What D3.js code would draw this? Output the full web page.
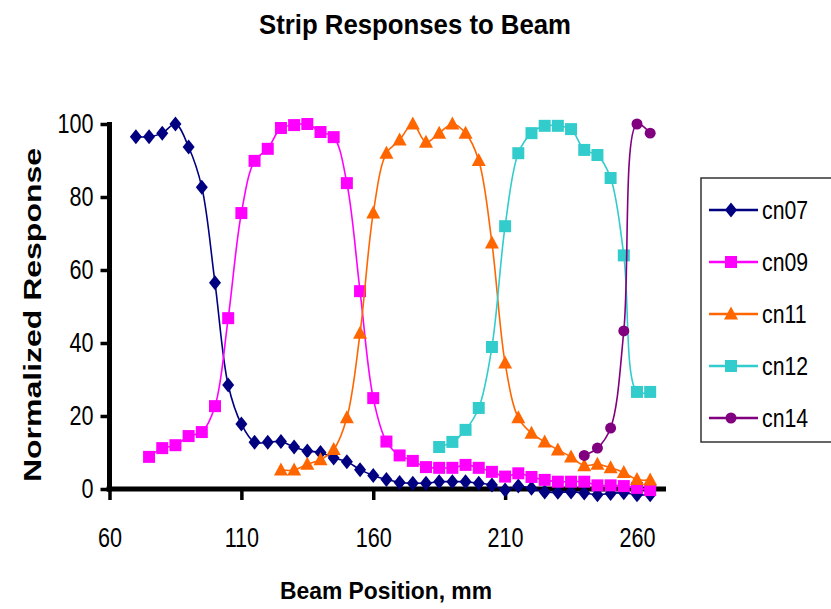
<!DOCTYPE html>
<html>
<head>
<meta charset="utf-8">
<script src="https://cdn.jsdelivr.net/npm/d3@7"></script>
<style>
  html, body { margin: 0; padding: 0; background: #fff; }
  svg { display: block; }
  text { font-family: "Liberation Sans", Arial, sans-serif; fill: #000; }
</style>
</head>
<body>
<svg id="chart" width="831" height="609"></svg>
<script>
// ---- data ----
const seriesNames = ["cn07", "cn09", "cn11", "cn12", "cn14"];
const seriesColors = ["#000080", "#FF00FF", "#FF6600", "#33CCCC", "#800080"];
const seriesSymbols = ["diamond", "square", "triangle", "square", "circle"];

const cn07X = [70,75,80,85,90,95,100,105,110,115,120,125,130,135,140,145,150,155,160,165,170,175,180,185,190,195,200,205,210,215,220,225,230,235,240,245,250,255,260,265];
const cn07Y = [96.5,96.5,97.5,100,93.7,82.7,56.5,28.5,17.8,12.8,12.8,13,11.5,10.4,10,8.5,7.5,5.3,3.7,2.6,1.8,1.6,1.6,2,2,2,1.6,1.1,-0.3,0.8,0.2,-0.8,-0.9,-0.8,-1.1,-1.6,-1.2,-1,-1.6,-1.6];

const cn09X = [75,80,85,90,95,100,105,110,115,120,125,130,135,140,145,150,155,160,165,170,175,180,185,190,195,200,205,210,215,220,225,230,235,240,245,250,255,260,265];
const cn09Y = [8.8,11.2,12,14.5,15.6,22.7,46.8,75.6,89.9,93.2,98.9,99.7,100,97.8,96.4,83.8,54.2,24.9,13,9.2,7.7,6,5.8,5.8,6.6,5.8,4.7,3.4,4.3,3.3,2.5,2,2,2,1,1,0.8,0.3,-0.3];

const cn11X = [125,130,135,140,145,150,155,160,165,170,175,180,185,190,195,200,205,210,215,220,225,230,235,240,245,250,255,260,265];
const cn11Y = [5.2,5.2,6.8,8,10.8,19.5,42.7,75.6,92,95.6,100,95,97.5,100,97.5,90,67.4,34.5,19.5,15.3,12.9,10.7,8.8,6.4,6.8,5.8,4.5,2.6,2.5];

const cn12X = [185,190,195,200,205,210,215,220,225,230,235,240,245,250,255,260,265];
const cn12Y = [11.5,12.9,16.2,22.2,38.9,72,92,97.5,99.5,99.5,98.6,92.9,91.5,85.2,64,26.6,26.6];

const cn14X = [240,245,250,255,260,265];
const cn14Y = [9.2,11.2,16.7,43.3,100,97.5];

const xTicks = [60, 110, 160, 210, 260];
const yTicks = [0, 20, 40, 60, 80, 100];

const titleText = "Strip Responses to Beam";
const xTitle = "Beam Position, mm";
const yTitle = "Normalized Response";

// ---- build ----
const xs = [cn07X, cn09X, cn11X, cn12X, cn14X];
const ys = [cn07Y, cn09Y, cn11Y, cn12Y, cn14Y];
const series = seriesNames.map((name, i) => ({
  name, color: seriesColors[i], symbol: seriesSymbols[i],
  points: xs[i].map((xv, j) => ({ x: xv, y: ys[i][j] }))
}));

function squeeze(sel, factor) {
  sel.each(function () {
    const w = this.getComputedTextLength();
    d3.select(this).attr("textLength", w * factor).attr("lengthAdjust", "spacingAndGlyphs");
  });
}

const svg = d3.select("#chart");
const x = d3.scaleLinear().domain([60, 271]).range([109.5, 666]);
const y = d3.scaleLinear().domain([0, 100]).range([489, 124]);

// title
svg.append("text")
  .attr("x", 415).attr("y", 34)
  .attr("text-anchor", "middle")
  .attr("font-size", 28).attr("font-weight", "bold")
  .attr("textLength", 312).attr("lengthAdjust", "spacingAndGlyphs")
  .text(titleText);

// axes
const yAxis = svg.append("g").attr("transform", `translate(${x(60)},0)`)
  .call(d3.axisLeft(y).tickValues(yTicks).tickSize(9).tickSizeOuter(0).tickPadding(7));
const xAxis = svg.append("g").attr("transform", `translate(0,${y(0)})`)
  .call(d3.axisBottom(x).tickValues(xTicks).tickSize(11).tickSizeOuter(0).tickPadding(28));

[yAxis, xAxis].forEach(g => {
  g.select(".domain").attr("stroke", "#000").attr("stroke-width", 5);
  g.selectAll(".tick line").attr("stroke", "#000").attr("stroke-width", 3.5);
  g.selectAll(".tick text").attr("font-size", 27)
    .attr("font-family", "'Liberation Sans',Arial,sans-serif")
    .attr("fill", "#000");
  squeeze(g.selectAll(".tick text"), 0.8);
});
yAxis.select(".domain").attr("d", `M0,${y(100) - 2}V${y(0) + 2.5}`);
xAxis.select(".domain").attr("d", `M${x(60) - 3},0H${x(271)}`);

// axis titles
svg.append("text")
  .attr("x", 386).attr("y", 599)
  .attr("text-anchor", "middle")
  .attr("font-size", 24).attr("font-weight", "bold")
  .attr("textLength", 212).attr("lengthAdjust", "spacingAndGlyphs")
  .text(xTitle);
svg.append("text")
  .attr("transform", "translate(41,315) rotate(-90)")
  .attr("text-anchor", "middle")
  .attr("font-size", 24).attr("font-weight", "bold")
  .attr("textLength", 334).attr("lengthAdjust", "spacingAndGlyphs")
  .text(yTitle);

// symbols
function symbolPath(kind) {
  if (kind === "diamond") return "M0,-7.5L6,0L0,7.5L-6,0Z";
  if (kind === "square") return "M-6,-6H6V6H-6Z";
  if (kind === "triangle") return "M0,-7.5L7,5.5L-7,5.5Z";
  return d3.symbol(d3.symbolCircle, 95)();
}

const line = d3.line().x(d => x(d.x)).y(d => y(d.y)).curve(d3.curveCatmullRom.alpha(0.5));

series.forEach(s => {
  const g = svg.append("g");
  g.append("path").attr("d", line(s.points))
    .attr("fill", "none").attr("stroke", s.color).attr("stroke-width", 1.6);
  g.selectAll("path.mk").data(s.points).join("path").attr("class", "mk")
    .attr("d", symbolPath(s.symbol))
    .attr("transform", d => `translate(${x(d.x)},${y(d.y)})`)
    .attr("fill", s.color);
});

// legend
const lg = svg.append("g");
lg.append("rect").attr("x", 701).attr("y", 178).attr("width", 140).attr("height", 264)
  .attr("fill", "#fff").attr("stroke", "#333").attr("stroke-width", 1.5);
const legendY = [210, 262, 314, 366, 418];
series.forEach((s, i) => {
  const cy = legendY[i];
  lg.append("line").attr("x1", 709).attr("x2", 758).attr("y1", cy).attr("y2", cy)
    .attr("stroke", s.color).attr("stroke-width", 2.5);
  lg.append("path").attr("d", symbolPath(s.symbol))
    .attr("transform", `translate(731,${cy})`).attr("fill", s.color);
  const t = lg.append("text").attr("x", 762).attr("y", cy + 9)
    .attr("font-size", 25).text(s.name);
  squeeze(t, 0.85);
});
</script>
</body>
</html>
